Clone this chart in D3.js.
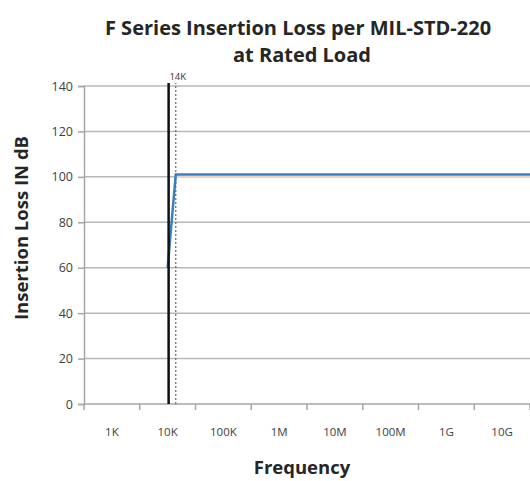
<!DOCTYPE html>
<html><head><meta charset="utf-8">
<script src="https://cdn.jsdelivr.net/npm/d3@7"></script>
<style>body{margin:0;background:#fff}svg{display:block}</style>
</head><body>
<script>
const categories = ["1K","10K","100K","1M","10M","100M","1G","10G"];
const categoryFreqs = [1e3,1e4,1e5,1e6,1e7,1e8,1e9,1e10];
const yTicks = [0,20,40,60,80,100,120,140];
const lossFreqs = [1e4, 1.4e4, 1e11];
const lossValues = [60, 101, 101];
const refFreqs = [1e4, 1.4e4, 1e11];
const refValues = [null, 100, 100];
const markerSolid = 1e4;
const markerDotted = 1.4e4;
const markerLabel = "14K";

const W = 530, H = 481;
const m = {left:84, right:0, top:86, bottom:77};
const svg = d3.select("body").append("svg").attr("width",W).attr("height",H);
const x = d3.scaleLog().domain([Math.pow(10,2.5), Math.pow(10,10.5)]).range([m.left, W-m.right]);
const y = d3.scaleLinear().domain([0,140]).range([H-m.bottom, m.top]);

svg.append("defs").append("clipPath").attr("id","clip")
  .append("rect").attr("x",m.left).attr("y",0).attr("width",W-m.left).attr("height",H);

// gridlines
svg.append("g").selectAll("line").data(yTicks.filter(d=>d>0)).join("line")
  .attr("x1",m.left).attr("x2",W).attr("y1",d=>y(d)).attr("y2",d=>y(d))
  .attr("stroke","#b8b8b8").attr("stroke-width",1.5);

// y axis
const yAxis = svg.append("g").attr("transform",`translate(${m.left},0)`)
  .call(d3.axisLeft(y).tickValues(yTicks).tickSize(6).tickPadding(5));
yAxis.select(".domain").attr("stroke","#a6a6a6").attr("stroke-width",1.5);
yAxis.selectAll(".tick line").attr("stroke","#a6a6a6").attr("stroke-width",1.5);
yAxis.selectAll(".tick text").attr("fill","#404040").attr("font-family","'Open Sans', sans-serif").attr("font-size",12.5);

// x axis (category boundaries as ticks)
const boundaries = d3.range(0, categories.length+1).map(i=>Math.pow(10, 2.5+i));
const xg = svg.append("g").attr("transform",`translate(0,${y(0)})`);
xg.append("line").attr("x1",m.left).attr("x2",W).attr("stroke","#a6a6a6").attr("stroke-width",1.5);
xg.selectAll("line.tk").data(boundaries).join("line").attr("class","tk")
  .attr("x1",d=>x(d)).attr("x2",d=>x(d)).attr("y1",0).attr("y2",6)
  .attr("stroke","#a6a6a6").attr("stroke-width",1.5);
xg.selectAll("text").data(categories).join("text")
  .attr("x",(d,i)=>x(categoryFreqs[i])).attr("y",32).attr("text-anchor","middle")
  .attr("fill","#404040").attr("font-family","'Open Sans', sans-serif").attr("font-size",11.5)
  .text(d=>d);

// reference (orange) series
const line = d3.line().defined(d=>d[1]!=null).x(d=>x(d[0])).y(d=>y(d[1]));
const g = svg.append("g").attr("clip-path","url(#clip)");
g.append("path").datum(refFreqs.map((f,i)=>[f,refValues[i]]))
  .attr("d",line).attr("fill","none").attr("stroke","#f2cfb8").attr("stroke-width",1.5);
// loss series
g.append("path").datum(lossFreqs.map((f,i)=>[f,lossValues[i]]))
  .attr("d",line).attr("fill","none").attr("stroke","#3a7fc4").attr("stroke-width",2.5);

// markers
svg.append("line").attr("x1",x(markerSolid)+1).attr("x2",x(markerSolid)+1)
  .attr("y1",y(0)).attr("y2",y(140)-3).attr("stroke","#111").attr("stroke-width",2.5);
svg.append("line").attr("x1",x(markerDotted)).attr("x2",x(markerDotted))
  .attr("y1",y(0)).attr("y2",y(140)-3).attr("stroke","#666").attr("stroke-width",1.2)
  .attr("stroke-dasharray","2,2");
svg.append("text").attr("x",x(markerDotted)+2).attr("y",y(140)-6).attr("text-anchor","middle")
  .attr("fill","#333").attr("font-family","'Open Sans', sans-serif").attr("font-size",9.5).text(markerLabel);

// titles
const title = svg.append("text").attr("text-anchor","middle").attr("fill","#262626")
  .attr("font-family","'Open Sans', sans-serif").attr("font-weight","bold").attr("font-size",20);
title.append("tspan").attr("x",298).attr("y",35).text("F Series Insertion Loss per MIL-STD-220");
title.append("tspan").attr("x",302).attr("y",62).text("at Rated Load");

svg.append("text").attr("transform","translate(28,228) rotate(-90)").attr("text-anchor","middle")
  .attr("fill","#262626").attr("font-family","'Open Sans', sans-serif").attr("font-weight","bold")
  .attr("font-size",18.5).text("Insertion Loss IN dB");
svg.append("text").attr("x",302).attr("y",474).attr("text-anchor","middle")
  .attr("fill","#262626").attr("font-family","'Open Sans', sans-serif").attr("font-weight","bold")
  .attr("font-size",18.5).text("Frequency");
</script>
</body></html>
